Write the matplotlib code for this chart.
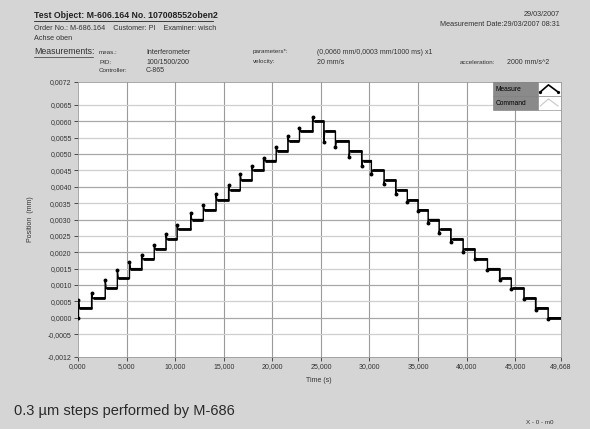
import matplotlib.pyplot as plt
from matplotlib.patches import Rectangle

# step instants (s)
step_up_t = [0.05, 1.4, 2.8, 4.05, 5.3, 6.55, 7.85, 9.05, 10.2, 11.6,
             12.9, 14.2, 15.5, 16.7, 17.9, 19.1, 20.4, 21.6, 22.8, 24.15]
step_down_t = [25.3, 26.5, 27.9, 29.2, 30.2, 31.5, 32.7, 33.9, 35.0, 36.04,
               37.17, 38.37, 39.64, 40.84, 42.15, 43.4, 44.6, 45.9, 47.1, 48.39]
# settled position after each step (mm)
level_up = [0.0003, 0.0006, 0.0009, 0.0012, 0.0015, 0.0018, 0.0021, 0.0024, 0.0027, 0.0030,
            0.0033, 0.0036, 0.0039, 0.0042, 0.0045, 0.0048, 0.0051, 0.0054, 0.0057, 0.0060]
level_down = [0.0057, 0.0054, 0.0051, 0.0048, 0.0045, 0.0042, 0.0039, 0.0036, 0.0033, 0.0030,
              0.0027, 0.0024, 0.0021, 0.0018, 0.0015, 0.0012, 0.0009, 0.0006, 0.0003, 0.0000]
# overshoot / undershoot marker per step (mm)
peak_up = [0.00055, 0.00075, 0.00115, 0.00145, 0.0017, 0.00193, 0.00223, 0.00256, 0.00284, 0.0032,
           0.00343, 0.00378, 0.00405, 0.00439, 0.00463, 0.00487, 0.00522, 0.00555, 0.00581, 0.00613]
dip_down = [0.00537, 0.00522, 0.0049, 0.00463, 0.0044, 0.0041, 0.00378, 0.00355, 0.00326, 0.0029,
            0.0026, 0.0023, 0.0020, 0.00178, 0.00145, 0.00115, 0.00087, 0.00058, 0.00024, -0.00004]
t_end = 49.668

yticks = [0.0072, 0.0065, 0.0060, 0.0055, 0.0050, 0.0045, 0.0040, 0.0035, 0.0030, 0.0025,
          0.0020, 0.0015, 0.0010, 0.0005, 0.0000, -0.0005, -0.0012]
xticks = [0, 5, 10, 15, 20, 25, 30, 35, 40, 45, 49.668]
xlabels = ['0,000', '5,000', '10,000', '15,000', '20,000', '25,000', '30,000',
           '35,000', '40,000', '45,000', '49,668']

bg = '#d5d5d5'
txt = '#333333'
font = 'Liberation Sans'
plt.rcParams['font.family'] = [font, 'DejaVu Sans']

fig = plt.figure(figsize=(5.9, 4.29), dpi=100, facecolor=bg)
ax = fig.add_axes([0.1322, 0.1678, 0.8178, 0.641])
ax.set_facecolor('white')

times = step_up_t + step_down_t
levels = level_up + level_down
extremes = peak_up + dip_down

# measured trace
mx, my = [0.0], [0.0]
prev = 0.0
for t, lv, ex in zip(times, levels, extremes):
    mx += [t, t, t + 0.1]
    my += [prev, ex, lv]
    prev = lv
mx.append(t_end)
my.append(prev)

# command trace
cx, cy = [0.0], [0.0]
prev = 0.0
for t, lv in zip(times, levels):
    cx += [t, t]
    cy += [prev, lv]
    prev = lv
cx.append(t_end)
cy.append(prev)

ends = times[1:] + [t_end]
ax.plot(cx, cy, color='#555555', lw=0.6, zorder=3)
ax.plot(mx, my, color='black', lw=1.0, zorder=4)
ax.hlines(levels, [t + 0.1 for t in times], ends, color='black', lw=2.0, zorder=4)
ax.plot([0] + times, [0.0] + extremes, 'o', color='black', ms=1.8, zorder=5)

ax.set_xlim(0, t_end)
ax.set_ylim(-0.0012, 0.0072)
ax.set_xticks(xticks)
ax.set_xticklabels(xlabels)
ax.set_yticks(yticks)
ax.set_yticklabels([f'{v:.4f}'.replace('.', ',') for v in yticks])
ax.tick_params(labelsize=5, colors=txt, length=3, width=0.6, pad=1.5)

for v in xticks[1:-1]:
    ax.axvline(v, color='#9a9a9a', lw=0.8, zorder=1)
for v in yticks[1:-1]:
    c = '#a8a8a8' if round(v * 10000) % 10 == 0 else '#cfcfcf'
    ax.axhline(v, color=c, lw=0.9, zorder=1)

for s in ax.spines.values():
    s.set_color('#9a9a9a')
    s.set_linewidth(0.6)

ax.set_xlabel('Time (s)', fontsize=5, color=txt, labelpad=5)
ax.set_ylabel('Position  (mm)', fontsize=5, color=txt, labelpad=10)

# legend boxes in the top right corner
leg = [('Measure', 'black', 1.2, 1.0), ('Command', '#c8c8c8', 0.8, 0.949)]
for name, col, lw, ytop in leg:
    h = 0.052
    ax.add_patch(Rectangle((0.86, ytop - h), 0.093, h, transform=ax.transAxes,
                           facecolor='#8a8a8a', edgecolor='#7a7a7a', lw=0.4, zorder=6))
    ax.add_patch(Rectangle((0.953, ytop - h), 0.047, h, transform=ax.transAxes,
                           facecolor='white', edgecolor='#7a7a7a', lw=0.4, zorder=6))
    ax.text(0.865, ytop - h / 2, name, transform=ax.transAxes, fontsize=4.8,
            color='black', va='center', ha='left', zorder=7)
    ax.plot([0.958, 0.975, 0.995], [ytop - h * 0.7, ytop - h * 0.2, ytop - h * 0.7],
            transform=ax.transAxes, color=col, lw=lw, zorder=7)
    if name == 'Measure':
        ax.plot([0.958, 0.995], [ytop - h * 0.7, ytop - h * 0.7], 'o',
                transform=ax.transAxes, color='black', ms=1.3, zorder=7)

# header
def ftxt(x, y, s, size=5, **kw):
    fig.text(x / 590, 1 - y / 429, s, fontsize=size, color=txt, va='center', **kw)

fig.text(34 / 590, 1 - 16 / 429, 'Test Object: M-606.164 No. 107008552oben2',
         fontsize=6.3, fontweight='bold', color='#222222', va='center')
ftxt(34, 29, 'Order No.: M-686.164    Customer: PI    Examiner: wisch', 5.2)
ftxt(34, 39, 'Achse oben', 5.2)
ftxt(34, 52, 'Measurements:', 6.3)
ftxt(99, 52, 'meas.:', 4.5)
ftxt(99, 62, 'PID:', 4.5)
ftxt(99, 71, 'Controller:', 4.5)
ftxt(146, 52, 'Interferometer', 5)
ftxt(146, 62, '100/1500/200', 5)
ftxt(146, 71, 'C-865', 5)
ftxt(253, 52, 'parameters*:', 4.5)
ftxt(253, 62, 'velocity:', 4.5)
ftxt(317, 52, '(0,0060 mm/0,0003 mm/1000 ms) x1', 5)
ftxt(317, 62, '20 mm/s', 5)
ftxt(460, 62, 'acceleration:', 4.5)
ftxt(507, 62, '2000 mm/s^2', 5)
ftxt(560, 15, '29/03/2007', 5.2, ha='right')
ftxt(560, 25, 'Measurement Date:29/03/2007 08:31', 5.2, ha='right')

# underlines
fig.add_artist(plt.Line2D([34 / 590, 213 / 590], [1 - 21 / 429] * 2, color='#222222', lw=0.6))
fig.add_artist(plt.Line2D([34 / 590, 93 / 590], [1 - 56.5 / 429] * 2, color=txt, lw=0.5))

# caption
fig.text(14 / 590, 1 - 411 / 429, '0.3 \u00b5m steps performed by M-686',
         fontsize=10.5, color='#2a2a2a', va='center')
ftxt(553, 423, 'X - 0 - m0', 4.5, ha='right')

fig.savefig('out.png', dpi=100, facecolor=bg)
